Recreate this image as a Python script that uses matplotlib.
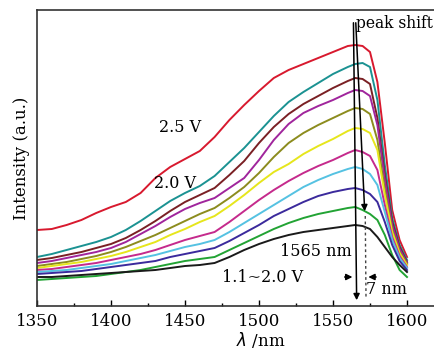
import numpy as np
import matplotlib.pyplot as plt
from matplotlib.ticker import MultipleLocator

plt.rcParams['font.family'] = ['DejaVu Serif']

# Wavelength grid (nm)
wavelength = [1350, 1360, 1370, 1380, 1390, 1400, 1410, 1420, 1430, 1440,
              1450, 1460, 1470, 1480, 1490, 1500, 1510, 1520, 1530, 1540,
              1550, 1560, 1565, 1570, 1575, 1580, 1585, 1590, 1595, 1600]

# Intensity (a.u.), one list per bias voltage
i_25v = [76, 77, 81, 86, 93, 99, 104, 113, 128, 139, 147, 155, 169, 186, 201,
         215, 228, 236, 242, 248, 254, 260, 261, 260, 254, 224, 163, 96, 66, 49]
i_20v = [49, 52, 56, 60, 64, 69, 76, 85, 95, 105, 113, 120, 130, 144, 158,
         174, 190, 204, 214, 223, 232, 239, 242, 243, 239, 206, 141, 88, 61, 46]
i_19v = [46, 48, 51, 54, 58, 62, 68, 76, 85, 95, 104, 111, 118, 131, 145,
         163, 179, 192, 202, 210, 218, 225, 228, 227, 222, 188, 131, 84, 59, 44]
i_18v = [43, 45, 48, 51, 54, 58, 64, 72, 80, 89, 97, 103, 108, 118, 128,
         146, 166, 182, 193, 200, 206, 213, 216, 215, 210, 181, 126, 81, 57, 43]
i_17v = [40, 42, 44, 47, 50, 54, 59, 65, 71, 78, 85, 92, 98, 108, 119,
         133, 149, 163, 173, 181, 188, 195, 198, 197, 192, 166, 116, 76, 54, 42]
i_16v = [38, 40, 42, 44, 47, 50, 54, 59, 64, 71, 77, 84, 90, 100, 111,
         123, 134, 142, 152, 160, 167, 175, 178, 177, 173, 156, 111, 74, 53, 41]
i_15v = [36, 37, 39, 41, 43, 46, 49, 52, 56, 61, 66, 70, 74, 84, 95,
         106, 116, 125, 133, 140, 146, 153, 156, 154, 150, 136, 101, 69, 50, 39]
i_14v = [34, 35, 36, 38, 40, 42, 45, 48, 51, 55, 59, 62, 66, 74, 83,
         92, 101, 110, 119, 126, 132, 137, 139, 137, 132, 121, 94, 66, 48, 38]
i_13v = [32, 33, 34, 35, 37, 39, 41, 43, 45, 49, 52, 55, 58, 65, 73,
         81, 90, 97, 104, 110, 114, 117, 118, 116, 112, 104, 84, 61, 45, 36]
i_12v = [26, 27, 28, 29, 30, 32, 34, 36, 39, 42, 45, 47, 49, 56, 63,
         70, 77, 83, 88, 92, 95, 98, 99, 96, 92, 86, 71, 51, 36, 29]
i_11v = [29, 29, 30, 31, 32, 33, 34, 35, 36, 38, 40, 41, 43, 49, 56,
         62, 67, 71, 74, 76, 78, 80, 81, 80, 77, 69, 59, 49, 41, 34]

series = [i_25v, i_20v, i_19v, i_18v, i_17v, i_16v, i_15v, i_14v, i_13v, i_12v, i_11v]
colors = ['#d8192e', '#1b9292', '#7a2024', '#a0259c', '#8c8c1e', '#e6e61c',
          '#c52a8c', '#55c2e2', '#3b2a9c', '#22a334', '#1a1a1a']

fig = plt.figure(figsize=(4.35, 3.51), dpi=100)
ax = fig.add_axes([37 / 435, 45 / 351, 414.4 / 435, 296 / 351])

for vals, c in zip(series, colors):
    ax.plot(wavelength, vals, color=c, lw=1.4)

ax.set_xlim(1350, 1630)
ax.set_ylim(0, 296)
ax.set_yticks([])
ax.xaxis.set_major_locator(MultipleLocator(50))
ax.xaxis.set_minor_locator(MultipleLocator(25))
ax.tick_params(axis='x', which='major', direction='in', length=4, width=1, labelsize=12, pad=5)
ax.tick_params(axis='x', which='minor', direction='in', length=2.5, width=1)
for sp in ax.spines.values():
    sp.set_linewidth(1.2)
    sp.set_color('#333333')

ax.set_ylabel('Intensity (a.u.)', fontsize=12, labelpad=5)
ax.set_xlabel(r'$\lambda$ /nm', fontsize=12)
ax.xaxis.set_label_coords(0.54, -0.08)

ax.text(1447, 178, '2.5 V', fontsize=11.5, ha='center', va='center')
ax.text(1443, 122, '2.0 V', fontsize=11.5, ha='center', va='center')
ax.text(1563, 54, '1565 nm', fontsize=11.5, ha='right', va='center')
ax.text(1475, 29, '1.1~2.0 V', fontsize=11.5, ha='left', va='center')
ax.text(1572, 17, '7 nm', fontsize=11.5, ha='left', va='center')
ax.text(1565.3, 282, 'peak shift', fontsize=11.2, ha='left', va='center', clip_on=False)

arrow = dict(arrowstyle='-|>', color='black', lw=1.1, mutation_scale=9)
ax.annotate('', xy=(1566, 3), xytext=(1563.8, 286), arrowprops=arrow)
ax.annotate('', xy=(1571.5, 92), xytext=(1565.3, 286), arrowprops=arrow)
ax.plot([1571.8, 1572.3], [90, 8], color='#444444', lw=1, ls=(0, (2, 2)))
ax.annotate('', xy=(1565, 29), xytext=(1556, 29), arrowprops=arrow)
ax.annotate('', xy=(1572, 29), xytext=(1581, 29), arrowprops=arrow)

fig.savefig('out.png', dpi=100)
